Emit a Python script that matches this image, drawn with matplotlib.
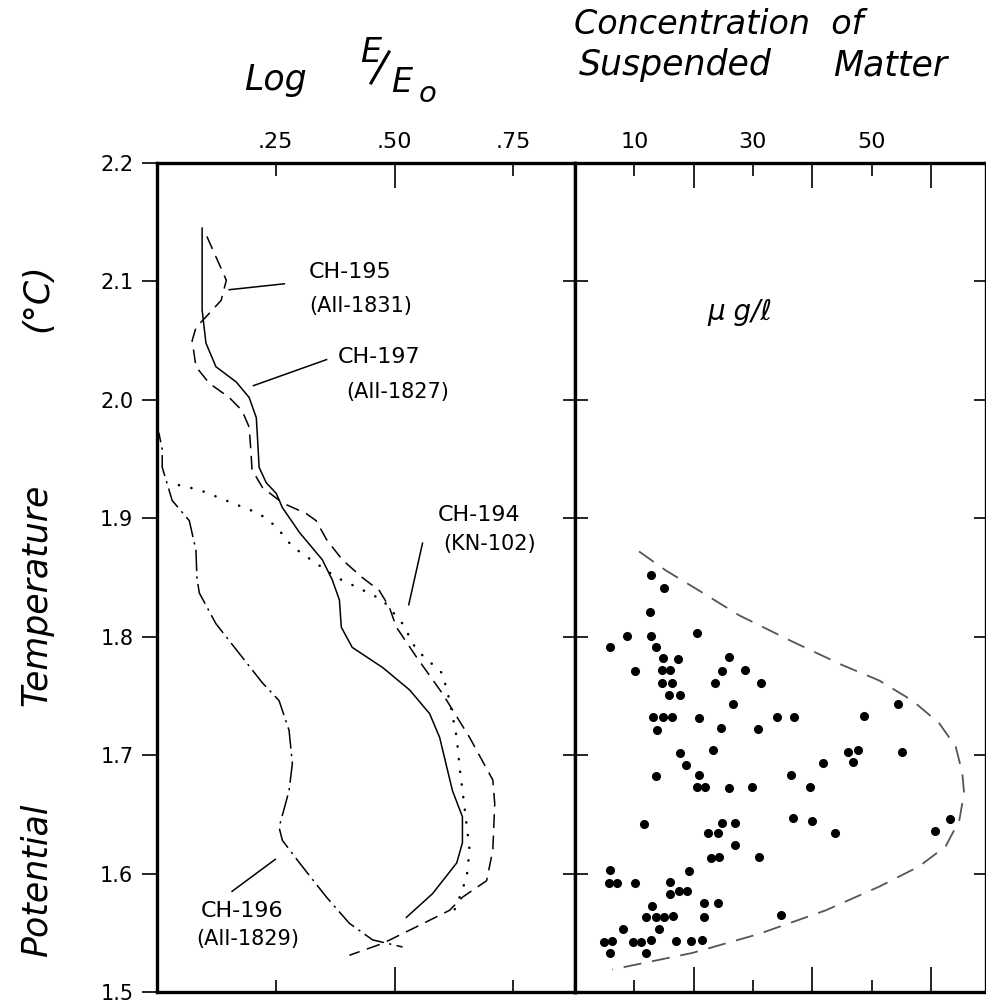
import numpy as np
import matplotlib
matplotlib.use('Agg')
import matplotlib.pyplot as plt
from matplotlib.lines import Line2D

# --- left panel: log(E/E0) profiles vs potential temperature ---
ch197_x = [0.095, 0.095, 0.103, 0.124, 0.167, 0.194, 0.209, 0.211, 0.215, 0.230, 0.251, 0.264,
           0.300, 0.348, 0.369, 0.384, 0.388, 0.411, 0.475, 0.532, 0.574, 0.595, 0.610, 0.622,
           0.643, 0.643, 0.631, 0.580, 0.525]
ch197_t = [2.145, 2.076, 2.048, 2.028, 2.015, 2.002, 1.985, 1.972, 1.943, 1.930, 1.921, 1.909,
           1.888, 1.865, 1.848, 1.831, 1.808, 1.791, 1.774, 1.755, 1.735, 1.715, 1.690, 1.670,
           1.648, 1.626, 1.609, 1.583, 1.563]

ch195_x = [0.105, 0.146, 0.135, 0.110, 0.082, 0.074, 0.082, 0.110, 0.152, 0.179, 0.194, 0.198,
           0.200, 0.222, 0.264, 0.314, 0.335, 0.357, 0.390, 0.432, 0.468, 0.489, 0.504, 0.546,
           0.601, 0.658, 0.707, 0.711, 0.707, 0.694, 0.643, 0.616, 0.546, 0.475, 0.405]
ch195_t = [2.138, 2.101, 2.084, 2.073, 2.061, 2.050, 2.028, 2.014, 2.002, 1.991, 1.977, 1.955,
           1.941, 1.926, 1.913, 1.904, 1.898, 1.882, 1.865, 1.850, 1.839, 1.825, 1.808, 1.783,
           1.752, 1.715, 1.679, 1.659, 1.620, 1.594, 1.580, 1.569, 1.555, 1.541, 1.531]

ch194_x = [0.046, 0.089, 0.158, 0.215, 0.251, 0.285, 0.335, 0.378, 0.420, 0.475, 0.517, 0.546,
           0.601, 0.616, 0.631, 0.637, 0.648, 0.658, 0.652, 0.637, 0.620]
ch194_t = [1.928, 1.924, 1.913, 1.904, 1.893, 1.876, 1.862, 1.850, 1.842, 1.831, 1.811, 1.789,
           1.769, 1.746, 1.715, 1.690, 1.654, 1.620, 1.597, 1.580, 1.563]

ch196_x = [0.000, 0.004, 0.011, 0.011, 0.032, 0.068, 0.082, 0.084, 0.089, 0.124, 0.167, 0.222,
           0.257, 0.278, 0.285, 0.278, 0.257, 0.264, 0.300, 0.357, 0.405, 0.454, 0.517]
ch196_t = [1.962, 1.972, 1.958, 1.943, 1.915, 1.898, 1.873, 1.850, 1.837, 1.811, 1.789, 1.761,
           1.746, 1.721, 1.693, 1.670, 1.639, 1.628, 1.609, 1.580, 1.558, 1.544, 1.538]

# station labels: name, ship, text x/y (two lines), leader from/to
stations = ['CH-195', 'CH-197', 'CH-194', 'CH-196']
ships = ['(AII-1831)', '(AII-1827)', '(KN-102)', '(AII-1829)']
label_x = [0.407, 0.468, 0.679, 0.179]
label_t = [2.108, 2.036, 1.903, 1.568]
ship_x = [0.428, 0.506, 0.700, 0.190]
ship_t = [2.079, 2.007, 1.878, 1.545]
lead_x0 = [0.152, 0.203, 0.559, 0.158]
lead_t0 = [2.093, 2.012, 1.879, 1.585]
lead_x1 = [0.268, 0.357, 0.530, 0.249]
lead_t1 = [2.098, 2.034, 1.827, 1.612]

# --- right panel: suspended matter (ug/l) ---
conc = [12.8, 15.0, 12.7, 8.7, 12.8, 20.6, 5.85, 13.6, 14.9, 17.4, 26.0, 10.1, 14.6, 16.0,
        24.8, 28.7, 14.7, 16.3, 23.6, 31.4, 15.9, 17.7, 26.7, 13.2, 14.9, 16.3, 20.9, 34.0,
        36.9, 48.7, 54.5, 13.9, 24.7, 30.9, 17.7, 23.2, 46.0, 47.8, 55.2, 18.7, 41.8, 46.8,
        13.7, 20.9, 36.4, 20.6, 21.9, 25.9, 29.9, 39.7, 11.7, 24.8, 27.0, 36.8, 39.9, 43.8,
        60.7, 63.2, 22.4, 24.1, 26.9, 22.9, 24.2, 31.0, 5.85, 19.2, 5.7, 7.0, 10.1, 16.0,
        16.0, 17.5, 18.9, 21.8, 24.1, 13.0, 11.9, 13.7, 15.0, 16.5, 21.8, 34.8, 8.15, 14.1,
        4.9, 6.3, 9.8, 11.2, 12.8, 17.1, 19.6, 21.4, 5.9, 12.0]
conc_t = [1.852, 1.841, 1.821, 1.801, 1.801, 1.803, 1.791, 1.791, 1.782, 1.781, 1.783, 1.771,
          1.772, 1.772, 1.771, 1.772, 1.761, 1.761, 1.761, 1.761, 1.751, 1.751, 1.743, 1.732,
          1.732, 1.732, 1.731, 1.732, 1.732, 1.733, 1.743, 1.721, 1.723, 1.722, 1.702, 1.704,
          1.703, 1.704, 1.703, 1.692, 1.693, 1.694, 1.682, 1.683, 1.683, 1.673, 1.673, 1.672,
          1.673, 1.673, 1.642, 1.643, 1.643, 1.647, 1.644, 1.634, 1.636, 1.646, 1.634, 1.634,
          1.624, 1.613, 1.614, 1.614, 1.603, 1.602, 1.592, 1.592, 1.592, 1.593, 1.583, 1.585,
          1.585, 1.575, 1.575, 1.573, 1.563, 1.563, 1.563, 1.564, 1.563, 1.565, 1.553, 1.553,
          1.542, 1.543, 1.542, 1.542, 1.544, 1.543, 1.543, 1.544, 1.533, 1.533]

env_x = [10.8, 15.3, 20.9, 27.7, 36.6, 45.1, 51.3, 56.9, 61.4, 64.2, 65.3, 65.6, 64.8, 62.5,
         58.0, 51.3, 42.3, 31.0, 19.8, 6.3]
env_t = [1.872, 1.856, 1.839, 1.818, 1.796, 1.776, 1.763, 1.746, 1.727, 1.707, 1.685, 1.668,
         1.645, 1.623, 1.606, 1.589, 1.569, 1.549, 1.533, 1.519]

yticks = [1.5, 1.6, 1.7, 1.8, 1.9, 2.0, 2.1, 2.2]
ylabels = ['1.5', '1.6', '1.7', '1.8', '1.9', '2.0', '2.1', '2.2']

W, H = 987, 1002
fig = plt.figure(figsize=(W / 100, H / 100), dpi=100)

def fx(px):
    return px / W

def fy(py):
    return 1 - py / H

ax1 = fig.add_axes([fx(157), fy(992), fx(575) - fx(157), fy(163) - fy(992)])
ax2 = fig.add_axes([fx(575), fy(992), 0.999 - fx(575), fy(163) - fy(992)])

for ax in (ax1, ax2):
    for s in ax.spines.values():
        s.set_linewidth(2.4)
    ax.set_ylim(1.5, 2.2)

# left panel
ax1.set_xlim(0, 0.88)
ax1.plot(ch197_x, ch197_t, color='k', lw=1.1)
ax1.plot(ch195_x, ch195_t, color='k', lw=1.1, dashes=(9, 5))
ax1.plot(ch194_x, ch194_t, color='k', lw=1.8, dashes=(0.1, 5), dash_capstyle='round')
ax1.plot(ch196_x, ch196_t, color='k', lw=1.1, dashes=(14, 3.5, 1.5, 3.5))
for i in range(len(stations)):
    ax1.text(label_x[i], label_t[i], stations[i], fontsize=16, ha='center', va='center')
    ax1.text(ship_x[i], ship_t[i], ships[i], fontsize=15, ha='center', va='center')
    ax1.plot([lead_x0[i], lead_x1[i]], [lead_t0[i], lead_t1[i]], color='k', lw=1.1)

ax1.set_xticks([0.5], labels=['.50'])
ax1.set_xticks([0.25, 0.75], labels=['.25', '.75'], minor=True)
ax1.tick_params(axis='x', which='both', direction='in', top=True, bottom=True,
                labeltop=True, labelbottom=False, labelsize=16, pad=8, width=1.2)
ax1.tick_params(axis='x', which='major', length=18)
ax1.tick_params(axis='x', which='minor', length=9)
ax1.set_yticks(yticks, labels=ylabels)
ax1.tick_params(axis='y', direction='out', length=11, width=1.2, labelsize=15, pad=6)

# right panel
ax2.set_xlim(0, 69.3)
ax2.plot(conc, conc_t, 'o', color='k', ms=5.5)
ax2.plot(env_x, env_t, color='#555555', lw=1.3, dashes=(10, 6))
ax2.text(0.40, 0.82, '\u03bc g/\u2113', transform=ax2.transAxes, fontsize=20,
         style='italic', ha='center', va='center')

ax2.set_xticks([20, 40, 60], labels=['', '', ''])
ax2.set_xticks([10, 30, 50], labels=['10', '30', '50'], minor=True)
ax2.tick_params(axis='x', which='both', direction='in', top=True, bottom=True,
                labeltop=True, labelbottom=False, labelsize=16, pad=8, width=1.2)
ax2.tick_params(axis='x', which='major', length=18)
ax2.tick_params(axis='x', which='minor', length=9)
ax2.set_yticks(yticks[1:-1])
ax2.tick_params(axis='y', direction='inout', length=18, width=1.2, left=True, right=True,
                labelleft=False)

# axis titles
fig.text(fx(275), fy(80), 'Log', fontsize=25, style='italic', ha='center', va='center')
fig.text(fx(371), fy(52), 'E', fontsize=24, style='italic', ha='center', va='center')
fig.add_artist(Line2D([fx(389), fx(371)], [fy(52), fy(83)], color='k', lw=2.2))
fig.text(fx(402), fy(83), 'E', fontsize=24, style='italic', ha='center', va='center')
fig.text(fx(428), fy(94), 'o', fontsize=21, style='italic', ha='center', va='center')
fig.text(fx(719), fy(25), 'Concentration  of', fontsize=24, style='italic', ha='center', va='center')
fig.text(fx(675), fy(65), 'Suspended', fontsize=25, style='italic', ha='center', va='center')
fig.text(fx(890), fy(65), 'Matter', fontsize=25, style='italic', ha='center', va='center')

fig.text(fx(37), fy(880), 'Potential', fontsize=25, style='italic', rotation=90,
         ha='center', va='center')
fig.text(fx(37), fy(595), 'Temperature', fontsize=25, style='italic', rotation=90,
         ha='center', va='center')
fig.text(fx(37), fy(298), '(\u00b0C)', fontsize=25, style='italic', rotation=90,
         ha='center', va='center')

fig.savefig('out.png', dpi=100)
